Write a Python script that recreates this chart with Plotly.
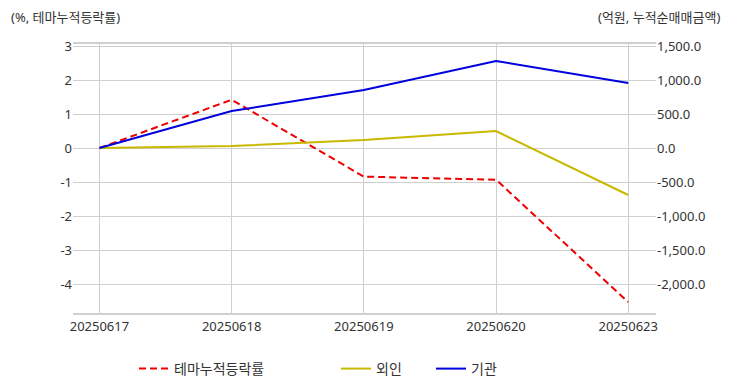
import plotly.graph_objects as go

dates = ["20250617", "20250618", "20250619", "20250620", "20250623"]
theme_pct = [0.0, 1.42, -0.84, -0.93, -4.53]
foreign = [0.0, 30.0, 118.0, 250.0, -690.0]
institution = [0.0, 544.0, 853.0, 1280.0, 956.0]

left_ticks = [3, 2, 1, 0, -1, -2, -3, -4]
left_labels = ["3", "2", "1", "0", "-1", "-2", "-3", "-4"]
right_ticks = [1500, 1000, 500, 0, -500, -1000, -1500, -2000]
right_labels = ["1,500.0", "1,000.0", "500.0", "0.0", "-500.0", "-1,000.0", "-1,500.0", "-2,000.0"]

FONT = "Noto Sans, Noto Sans CJK KR"
GRID = "#cfcfcf"

fig = go.Figure()
fig.add_trace(go.Scatter(x=dates, y=theme_pct, name="테마누적등락률", mode="lines",
                         line=dict(color="#ee0000", width=2, dash="7px,4px"), yaxis="y",
                         legend="legend"))
fig.add_trace(go.Scatter(x=dates, y=foreign, name="외인", mode="lines",
                         line=dict(color="#c8b900", width=2), yaxis="y2",
                         legend="legend2"))
fig.add_trace(go.Scatter(x=dates, y=institution, name="기관", mode="lines",
                         line=dict(color="#0000dd", width=2), yaxis="y2",
                         legend="legend3"))

leg = dict(orientation="h", xref="container", yref="container", yanchor="middle",
           xanchor="left", y=(392 - 369) / 392, font=dict(size=14, color="#333333"),
           bgcolor="rgba(0,0,0,0)")

fig.update_layout(
    width=732, height=392,
    margin=dict(l=73, r=76, t=44, b=79, autoexpand=False),
    paper_bgcolor="white", plot_bgcolor="white",
    font=dict(family=FONT, size=12, color="#333333"),
    xaxis=dict(type="category", range=[-0.2, 4.21], showgrid=True, gridcolor=GRID,
               showline=True, linecolor=GRID, linewidth=2, mirror=True, ticks="",
               tickfont=dict(size=13), zeroline=False),
    yaxis=dict(range=[-4.85, 3.06], tickvals=left_ticks, ticktext=left_labels,
               showgrid=True, gridcolor=GRID, gridwidth=1,
               zeroline=False, showline=False, ticks="", tickfont=dict(size=13)),
    yaxis2=dict(range=[-2425, 1530], tickvals=right_ticks, ticktext=right_labels,
                overlaying="y", side="right",
                showgrid=True, gridcolor=GRID, gridwidth=1, zeroline=False,
                showline=False, ticks="", tickfont=dict(size=13)),
    legend=dict(leg, x=(134) / 732),
    legend2=dict(leg, x=(336) / 732),
    legend3=dict(leg, x=(431) / 732),
    showlegend=True,
)
fig.layout.annotations = [
    dict(text="(%, 테마누적등락률)", x=0.0, xref="paper", xanchor="left", xshift=-64,
         y=1.0, yref="paper", yanchor="middle", yshift=27, showarrow=False,
         font=dict(size=13)),
    dict(text="(억원, 누적순매매금액)", x=1.0, xref="paper", xanchor="right", xshift=66,
         y=1.0, yref="paper", yanchor="middle", yshift=27, showarrow=False,
         font=dict(size=13)),
]
fig.write_html("out.html", post_script="document.body.style.margin='0';",
               config={"displayModeBar": False})
